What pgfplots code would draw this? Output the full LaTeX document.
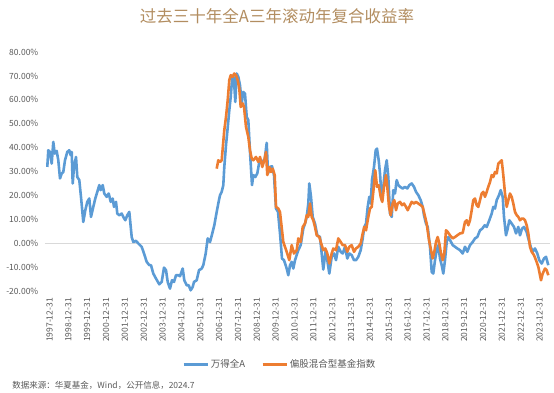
\documentclass[border=0pt]{standalone}
\usepackage{fontspec}
\setmainfont{Noto Sans CJK SC}
\usepackage{pgfplots}
\pgfplotsset{compat=1.18}
\definecolor{wblue}{RGB}{91,155,213}
\definecolor{worange}{RGB}{237,125,49}
\definecolor{ttl}{RGB}{178,141,96}
\definecolor{lbl}{RGB}{89,89,89}
\definecolor{zline}{RGB}{217,217,217}
\begin{document}
\begin{tikzpicture}[x=1pt,y=1pt]
\path[use as bounding box] (-45,-101) rectangle (509,291);
\begin{axis}[
  at={(0,0)}, anchor=south west,
  width=505pt, height=239pt, scale only axis,
  xmin=45, xmax=550, ymin=-20, ymax=80,
  axis line style={draw=none},
  major tick length=0pt,
  ytick={-20,-10,0,10,20,30,40,50,60,70,80},
  yticklabels={-20.00\%,-10.00\%,0.00\%,10.00\%,20.00\%,30.00\%,40.00\%,50.00\%,60.00\%,70.00\%,80.00\%},
  yticklabel style={font=\fontsize{8.5}{10}\selectfont, text=lbl, inner sep=0pt, anchor=east, xshift=-6.5pt},
  xtick={49.5,68.35,87.2,106.05,124.9,143.75,162.6,181.45,200.3,219.15,238,256.85,275.7,294.55,313.4,332.25,351.1,369.95,388.8,407.65,426.5,445.35,464.2,483.05,501.9,520.75,539.6},
  xticklabels={1997-12-31,1998-12-31,1999-12-31,2000-12-31,2001-12-31,2002-12-31,2003-12-31,2004-12-31,2005-12-31,2006-12-31,2007-12-31,2008-12-31,2009-12-31,2010-12-31,2011-12-31,2012-12-31,2013-12-31,2014-12-31,2015-12-31,2016-12-31,2017-12-31,2018-12-31,2019-12-31,2020-12-31,2021-12-31,2022-12-31,2023-12-31},
  xticklabel style={font=\fontsize{8.5}{10}\selectfont, text=lbl, inner sep=0pt, rotate=90, anchor=east, yshift=0pt},
  xticklabel shift=7pt,
  legend columns=2,
  legend style={draw=none, fill=none, at={(0.465,-0.3075)}, anchor=center,
    font=\fontsize{9.5}{11}\selectfont, text=lbl,
    /tikz/every even column/.append style={column sep=14pt}},
  legend image code/.code={\draw[#1] (0pt,0pt) -- (24pt,0pt);},
  clip=false,
]
\draw[zline, line width=1pt] (axis cs:45,0) -- (axis cs:550,0);
\addplot[wblue, line width=2.6pt, line join=round] coordinates {
(47.3,31.9)(48.3,38.9)(50,38.2)(51.7,33.3)(53.3,42.4)(54.7,37.5)(56.7,38.6)(58.3,34.7)(60,27.1)(61.7,29.2)(63.3,29.8)(65,34.7)(67.3,38.2)(69.3,38.9)(70.7,36.8)(71.7,38.2)(72.7,25.0)(74,31.9)(76,36.1)(77.3,27.7)(79.3,26.4)(81.3,18.0)(83.3,8.9)(85.3,13.8)(87.3,17.3)(89.3,18.7)(91,11.0)(93.3,15.2)(95.3,18.7)(97.3,21.5)(99.3,24.3)(100.7,22.2)(102.7,24.3)(104.3,20.8)(106.7,19.4)(108.7,20.8)(110.7,17.3)(112.7,18.7)(114,15.2)(116,17.3)(117.3,12.4)(119.3,11.7)(121.7,12.4)(123.3,11.0)(125.3,9.6)(127.3,11.7)(129.3,13.1)(131.7,2.6)(133.3,0.5)(136,1.0)(138.3,-0.1)(141.7,-1.5)(144,-4.3)(146.7,-7.8)(149.3,-9.2)(151,-9.2)(153.3,-12.7)(156,-14.8)(159.3,-17.2)(161.7,-16.2)(164,-10.2)(166,-11.3)(167.7,-16.2)(170,-19.0)(172,-15.5)(174,-16.2)(176,-13.4)(178.3,-13.4)(180,-13.8)(182.7,-10.6)(184.3,-15.5)(186.7,-17.6)(188.7,-17.6)(190.7,-19.7)(192.7,-18.3)(194,-16.2)(196.7,-15.5)(199,-11.3)(201.7,-10.6)(203.3,-9.2)(205.7,-4.3)(207.7,2.0)(210,0.5)(212.3,4.1)(214.3,7.5)(216.7,13.1)(218.3,16.6)(220,20.1)(221.7,21.5)(223.3,24.3)(224.3,31.9)(226,41.0)(227.3,46.6)(229.3,55.6)(230.7,61.2)(232,68.2)(233.3,70.3)(234.3,66.1)(235.3,59.1)(236.7,71.0)(238.3,69.6)(240,66.1)(241.7,58.5)(243.3,63.3)(245,62.6)(246.7,52.8)(248.3,51.5)(250,38.2)(252,24.3)(253.3,28.5)(255.3,27.7)(257.3,29.2)(259.3,34.0)(261.3,34.7)(262.7,34.0)(264.7,35.0)(266.7,42.0)(268,29.2)(270,31.9)(272,32.2)(274,28.5)(276,14.5)(278,13.1)(280,4.1)(282,-6.4)(284,-7.1)(286.7,-10.6)(288.3,-13.4)(290,-9.2)(291.7,-7.8)(293.3,-10.6)(295,-7.1)(298.3,-2.9)(300.7,-0.8)(303.3,6.1)(305,8.2)(306.7,11.0)(308.3,16.6)(309.3,25.0)(311,19.4)(312.7,11.0)(315,8.2)(317.3,3.3)(320,2.6)(321.7,-4.3)(323.3,-11.0)(325.7,-2.9)(327.3,-7.1)(329.3,-12.7)(331.7,-5.7)(334,-4.3)(336,-7.1)(338.3,-1.5)(340.7,-3.6)(342.7,-4.3)(345,-1.5)(347.3,-6.4)(349.3,-4.3)(351.7,-5.0)(354,-7.1)(356,-7.1)(358.3,-5.7)(360.7,-2.9)(362.7,2.0)(364.3,6.8)(366,8.2)(367.7,15.2)(369.3,19.4)(370.7,16.6)(372,26.4)(374,31.9)(375.7,38.9)(377,39.6)(378.7,34.7)(380,29.2)(381.7,18.0)(383.3,23.6)(385,30.5)(386.7,34.7)(388.3,27.7)(390,12.4)(391.7,11.0)(393.3,22.2)(395,20.8)(396.7,26.4)(398.3,24.3)(400,23.6)(402.7,22.9)(405,23.6)(407.3,22.9)(409.3,24.3)(411.7,25.0)(414,23.6)(416,21.5)(418.3,20.1)(420.7,18.0)(422.7,15.2)(424,11.7)(426,8.2)(427.7,6.8)(430,-1.5)(431.7,-12.0)(433.3,-12.7)(435,-7.1)(436.7,-2.9)(438.3,-0.8)(440,-6.4)(441.7,-9.2)(443.3,-12.7)(445,-7.1)(446.7,0.5)(448.3,2.6)(450,1.3)(452.7,-0.8)(455,-1.5)(457.3,-2.2)(460,-2.9)(462.7,-4.3)(465,-1.5)(467.3,-3.6)(470,-0.8)(472.7,0.5)(475,2.0)(477.3,2.6)(480,5.4)(482.3,6.1)(484.7,7.5)(486.7,6.8)(489.3,9.6)(491.7,12.4)(493.3,15.2)(495,14.5)(496.7,18.0)(499,20.1)(500.7,22.2)(502.7,19.4)(504,11.0)(506,3.3)(507.7,6.1)(509.3,9.6)(511.7,8.2)(514,6.8)(516,4.1)(518.3,6.8)(520,3.3)(522,6.1)(524,6.8)(526.7,4.7)(528.3,2.0)(530.7,-1.5)(532.7,-3.6)(535,-2.2)(537.3,-4.3)(539.3,-7.1)(541.7,-8.5)(544,-6.4)(546,-5.7)(548.3,-9.2)
};
\addlegendentry{万得全A}
\addplot[worange, line width=2.6pt, line join=round] coordinates {
(216.7,31.2)(218.3,34.7)(220,34.0)(221.7,34.7)(222.7,39.6)(224.3,47.3)(226,52.8)(227.7,59.8)(229.3,68.2)(230.7,70.3)(232.7,69.6)(234.3,71.0)(236,70.3)(237.7,68.2)(239.3,64.7)(240.7,57.0)(242.7,58.5)(244,57.0)(246,48.7)(248.3,44.5)(250,38.9)(251.7,35.4)(253.3,34.7)(256,36.1)(258.3,34.0)(260,36.1)(262.3,31.9)(264.3,34.7)(266,38.2)(267.3,28.5)(269.3,31.9)(271,29.8)(272.7,31.2)(274.7,28.5)(276,15.2)(278.3,14.5)(280,13.0)(283.3,0.5)(286.7,-3.6)(289.3,-7.1)(291.7,-0.8)(294,-4.3)(296.7,-2.9)(298.3,2.0)(300.7,0.5)(302.7,6.8)(305,8.2)(306.7,11.7)(308.3,11.0)(310,16.6)(311.7,11.0)(313.3,9.6)(315,6.8)(316.7,3.3)(319.3,2.6)(321.7,-0.8)(323.3,-2.9)(325.3,-2.2)(327.3,-4.3)(329.3,-8.5)(331.7,-4.3)(333.3,-2.2)(336,-2.9)(338.3,2.0)(340.7,0.5)(342.7,-0.8)(345,-0.8)(347.3,-3.6)(349.3,-1.5)(351.7,-0.8)(354,-3.6)(356,-2.2)(358.3,-1.5)(360.7,-0.1)(362.7,4.1)(364.3,6.8)(366,5.4)(368.3,11.0)(370,14.5)(371.7,15.2)(373.3,21.5)(375.3,30.5)(377,23.6)(378.7,24.3)(380.7,19.4)(382.3,17.3)(384,23.6)(386,28.5)(387.3,23.6)(389,15.2)(390.7,11.7)(392.7,16.6)(394.3,18.0)(396,13.8)(397.7,16.6)(400,17.3)(402,15.9)(404,16.6)(406,15.2)(407.7,13.8)(409.3,15.2)(411.7,17.3)(414,16.6)(416,17.3)(418.3,16.6)(420.7,15.9)(422.7,15.2)(424.3,12.4)(426.7,8.2)(429,1.3)(431,-2.9)(432.7,-6.4)(434.3,-3.6)(436,0.5)(437.7,2.6)(439.3,-0.1)(440.7,-3.6)(442.7,-7.1)(444.3,-4.3)(446,5.4)(447.7,4.7)(450,3.3)(452.7,2.0)(455,2.6)(457.3,3.3)(460,4.1)(462.7,4.3)(465,8.9)(466.7,9.6)(468.3,7.5)(470,9.6)(471.7,13.8)(473.3,18.0)(475,18.7)(476.7,15.9)(478.3,15.2)(480,18.0)(481.7,20.8)(483.3,21.5)(485,19.4)(486.7,21.5)(488.3,23.6)(490,25.6)(491.7,28.5)(493.3,27.7)(495,29.8)(496.7,29.2)(498.3,33.3)(500,34.0)(501.7,34.7)(503.3,28.5)(505,20.8)(506.7,15.2)(508.3,18.0)(510,20.8)(511.7,19.4)(513.3,16.6)(515,13.1)(516.7,11.7)(518.3,11.0)(520,9.6)(521.7,10.3)(523.3,10.3)(525,9.6)(526.7,7.5)(528.3,4.1)(530,-1.5)(531.7,-3.6)(534,-5.0)(536,-7.1)(538.3,-9.9)(541,-15.5)(542.7,-12.7)(545,-10.6)(546.7,-11.3)(548.3,-13.4)
};
\addlegendentry{偏股混合型基金指数}
\end{axis}
\node[text=ttl, font=\fontsize{16.5}{18}\selectfont] at (232,275) {过去三十年全A三年滚动年复合收益率};
\node[anchor=west, inner sep=0pt, text=lbl, font=\fontsize{8.5}{10}\selectfont] at (-32.7,-94.6) {数据来源：华夏基金，Wind，公开信息，2024.7};
\end{tikzpicture}
\end{document}
